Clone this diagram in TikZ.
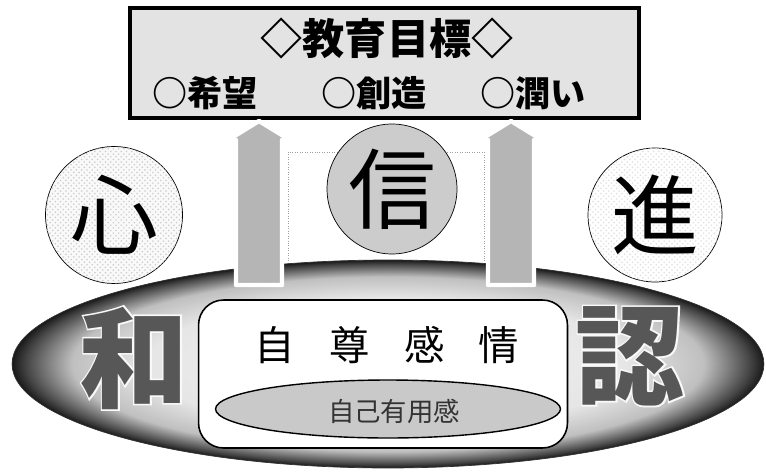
\documentclass[tikz,border=0pt]{standalone}
\usepackage{fontspec}
\newfontfamily\jp{Noto Sans CJK JP}
\newfontfamily\jpfat[FakeBold=3]{Noto Sans CJK JP}
\usetikzlibrary{shapes.geometric, patterns}

\pgfdeclareradialshading{rimshade}{\pgfpoint{0bp}{0bp}}{%
  color(0bp)=(gray!8); color(16bp)=(gray!20); color(21bp)=(gray!50);
  color(24bp)=(black!72); color(25bp)=(black!90); color(50bp)=(black!90)}

\begin{document}
\begin{tikzpicture}[x=0.02cm, y=-0.02cm,
    goal/.style={draw, line width=2.3pt, fill=gray!22, inner sep=0,
      minimum width=10.18cm, minimum height=2.2cm},
    pillar/.style={draw=white, line width=2.5pt, fill=gray!58, line join=round},
    plate/.style={circle, draw, thin, inner sep=0},
    speckle/.style={pattern color=gray!40, postaction={pattern=crosshatch dots}},
    bigchar/.style={font=\jp\fontsize{50}{50}\selectfont},
    rimchar/.style={inner sep=0, font=\jpfat\bfseries\fontsize{62}{62}\selectfont, text=gray!5},
    inchar/.style={inner sep=0, font=\jp\bfseries\fontsize{62}{62}\selectfont, text=black!66}]
  \useasboundingbox[fill=white] (0,0) rectangle (766,473);

  % panel behind the middle circle
  \draw[gray!75, densely dotted, fill=white] (288,152) rectangle (484,266);

  % base ellipse
  \node[ellipse, shading=rimshade, draw=black!80, inner sep=0,
    minimum width=15.04cm, minimum height=4.16cm] (base) at (388,364) {};
  \node[rimchar] (wa rim) at (134,358) {和};
  \node[inchar] (wa) at (134,358) {和};
  \node[rimchar] (nin rim) at (630,356) {認};
  \node[inchar] (nin) at (630,356) {認};

  % core
  \node[draw, line width=0.9pt, fill=white, rounded corners=0.5cm,
    minimum width=7.38cm, minimum height=2.96cm] (core) at (383,374) {};
  \node[font=\jp\fontsize{23}{23}\selectfont] (esteem) at (387,345)
    {自\hspace{.85em}尊\hspace{.85em}感\hspace{.85em}情};
  \node[ellipse, draw, line width=0.8pt, fill=gray!42, inner sep=0,
    minimum width=6.9cm, minimum height=1.16cm] (useful) at (388,409) {};
  \node[font=\jp\fontsize{15}{15}\selectfont, text=black!80] (useful text) at (394,411)
    {自己有用感};

  % goal box
  \node[goal] (goal) at (384.5,63) {};
  \node[font=\jp\bfseries\fontsize{24}{24}\selectfont] (title) at (387,38) {◇教育目標◇};
  \node[font=\jp\bfseries\fontsize{20}{20}\selectfont] (hope) at (205,93) {○希望};
  \node[font=\jp\bfseries\fontsize{20}{20}\selectfont] (create) at (374,93) {○創造};
  \node[font=\jp\bfseries\fontsize{20}{20}\selectfont] (moist) at (533,93) {○潤い};

  % arrows
  \coordinate (tipL) at (259,121);
  \coordinate (tipR) at (511,121);
  \draw[pillar] (tipL) -- ++(31,19) -- ++(-8,0) -- ++(0,145) -- ++(-46,0)
    -- ++(0,-145) -- ++(-8,0) -- cycle;
  \draw[pillar] (tipR) -- ++(31,19) -- ++(-8,0) -- ++(0,145) -- ++(-46,0)
    -- ++(0,-145) -- ++(-8,0) -- cycle;

  % circles
  \node[plate, fill=gray!5, speckle, minimum size=2.74cm, bigchar] (heart) at (114,215) {心};
  \node[plate, fill=gray!40, minimum size=2.6cm, bigchar] (trust) at (392,189) {信};
  \node[plate, fill=white, pattern color=gray!25, postaction={pattern=crosshatch dots},
    minimum size=2.68cm, bigchar] (advance) at (655,215) {進};
\end{tikzpicture}
\end{document}
